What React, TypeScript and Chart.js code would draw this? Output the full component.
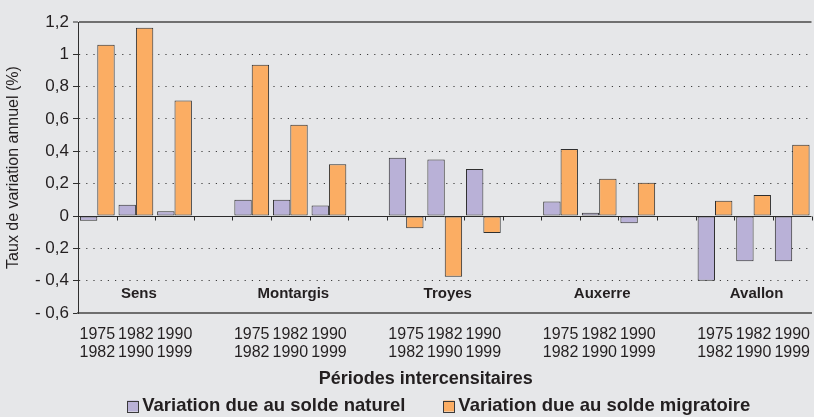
import React, { useEffect, useRef } from 'react';
import { Chart, registerables } from 'chart.js';

Chart.register(...registerables);

const cities = ['Sens', 'Montargis', 'Troyes', 'Auxerre', 'Avallon'];
const periodStarts = ['1975', '1982', '1990'];
const periodEnds = ['1982', '1990', '1999'];
const naturel = [-0.03, 0.07, 0.03, 0.1, 0.1, 0.065, 0.36, 0.35, 0.29, 0.09, 0.02, -0.045, -0.4, -0.28, -0.28];
const migratoire = [1.06, 1.165, 0.715, 0.935, 0.565, 0.32, -0.075, -0.375, -0.105, 0.415, 0.23, 0.205, 0.095, 0.13, 0.44];
const seriesNames = ['Variation due au solde naturel', 'Variation due au solde migratoire'];
const yMin = -0.6;
const yMax = 1.2;
const yStep = 0.2;
const yTitle = 'Taux de variation annuel (%)';
const xTitle = 'Périodes intercensitaires';

const COLORS = ['#b9b1d7', '#fbad63'];
const TEXT = '#231f20';
const FONT = "'Liberation Sans', Arial, sans-serif";

function buildCategories() {
  const labels: (string[] | string)[] = [];
  const nat: (number | null)[] = [];
  const mig: (number | null)[] = [];
  const cityIndex: number[] = [];
  cities.forEach((_, ci) => {
    periodStarts.forEach((s, pi) => {
      labels.push([s, periodEnds[pi]]);
      nat.push(naturel[ci * 3 + pi]);
      mig.push(migratoire[ci * 3 + pi]);
    });
    cityIndex.push(labels.length - 2);
    if (ci < cities.length - 1) {
      labels.push('');
      nat.push(null);
      mig.push(null);
    }
  });
  return { labels, nat, mig, cityIndex };
}

function fmt(v: number) {
  const r = Math.round(v * 10) / 10;
  const s = Math.abs(r).toString().replace('.', ',');
  return r < 0 ? '- ' + s : s;
}

export default function App() {
  const ref = useRef<HTMLCanvasElement | null>(null);

  useEffect(() => {
    document.body.style.margin = '0';
    const { labels, nat, mig, cityIndex } = buildCategories();

    const overlay = {
      id: 'overlay',
      afterDatasetsDraw(chart: any) {
        const { ctx, chartArea } = chart;
        const x = chart.scales.x;
        const y = chart.scales.y;
        const y0 = Math.round(y.getPixelForValue(0)) + 0.5;
        ctx.save();
        ctx.strokeStyle = '#2b2b2b';
        ctx.lineWidth = 1;
        ctx.beginPath();
        ctx.moveTo(chartArea.left, y0);
        ctx.lineTo(chartArea.right, y0);
        const n = labels.length;
        const half = (x.getPixelForValue(1) - x.getPixelForValue(0)) / 2;
        for (let i = 1; i <= n; i++) {
          const px = Math.round(x.getPixelForValue(i) - half) + 0.5;
          ctx.moveTo(px, y0);
          ctx.lineTo(px, y0 + 4);
        }
        ctx.stroke();

        ctx.fillStyle = TEXT;
        ctx.font = `bold 15px ${FONT}`;
        ctx.textAlign = 'center';
        ctx.textBaseline = 'middle';
        const ly = y.getPixelForValue(-0.48);
        cities.forEach((c, i) => {
          ctx.fillText(c, x.getPixelForValue(cityIndex[i]) + 3, ly);
        });
        ctx.restore();
      },
      afterDraw(chart: any) {
        const { ctx, chartArea } = chart;
        ctx.save();
        ctx.fillStyle = TEXT;
        ctx.textBaseline = 'middle';
        ctx.textAlign = 'center';
        ctx.font = `bold 18px ${FONT}`;
        const cx = (chartArea.left + chartArea.right) / 2 - 19;
        ctx.fillText(xTitle, cx, 379);

        // legend
        ctx.font = `bold 18.5px ${FONT}`;
        const box = 11;
        const gapText = 4;
        const gapItems = 38;
        const widths = seriesNames.map((s) => box + gapText + ctx.measureText(s).width);
        const total = widths[0] + gapItems + widths[1];
        let lx = cx + 13 - total / 2;
        const ly = 406;
        ctx.textAlign = 'left';
        seriesNames.forEach((s, i) => {
          ctx.fillStyle = COLORS[i];
          ctx.fillRect(lx, ly - box / 2, box, box);
          ctx.strokeStyle = '#3a3a3a';
          ctx.lineWidth = 1;
          ctx.strokeRect(Math.round(lx) + 0.5, Math.round(ly - box / 2) + 0.5, box, box);
          ctx.fillStyle = TEXT;
          ctx.fillText(s, lx + box + gapText, ly);
          lx += widths[i] + gapItems;
        });
        ctx.restore();
      },
    };

    const chart = new Chart(ref.current as HTMLCanvasElement, {
      type: 'bar',
      data: {
        labels,
        datasets: [
          {
            label: seriesNames[0],
            data: nat,
            backgroundColor: COLORS[0],
            borderColor: '#2f2f2f',
            borderWidth: 1,
            borderSkipped: false,
          },
          {
            label: seriesNames[1],
            data: mig,
            backgroundColor: COLORS[1],
            borderColor: '#2f2f2f',
            borderWidth: 1,
            borderSkipped: false,
          },
        ],
      },
      options: {
        animation: false,
        responsive: false,
        layout: { padding: { top: 22, left: 0, right: 0, bottom: 0 } },
        datasets: { bar: { categoryPercentage: 0.9, barPercentage: 1 } },
        plugins: {
          legend: { display: false },
          tooltip: { enabled: false },
        },
        scales: {
          x: {
            offset: true,
            grid: { display: false },
            border: { color: '#6e6e6e', width: 2 },
            ticks: {
              autoSkip: false,
              maxRotation: 0,
              minRotation: 0,
              padding: 4,
              color: TEXT,
              font: { family: FONT, size: 16, lineHeight: 1.15 },
            },
            afterFit: (s: any) => {
              s.height = 104;
            },
          },
          y: {
            min: yMin,
            max: yMax,
            afterFit: (s: any) => {
              s.width = 78;
            },
            ticks: {
              stepSize: yStep,
              padding: 4,
              color: TEXT,
              font: { family: FONT, size: 17 },
              callback: (v: any) => fmt(Number(v)),
            },
            grid: {
              tickLength: 5,
              tickColor: '#2f2f2f',
              tickWidth: 1,
              color: (c: any) => {
                const v = c.tick ? c.tick.value : 0;
                if (Math.abs(v) < 1e-6 || v < yMin + 1e-6) return 'rgba(0,0,0,0)';
                if (v > yMax - 1e-6) return '#707070';
                return '#3c3c3c';
              },
              lineWidth: (c: any) => {
                const v = c.tick ? c.tick.value : 0;
                return v > yMax - 1e-6 ? 2 : 1;
              },
            },
            border: {
              color: '#2f2f2f',
              width: 1,
              dash: (c: any) => {
                const v = c.tick ? c.tick.value : 0;
                if (!c.tick || v > yMax - 1e-6) return [];
                return [1.2, 6];
              },
            },
            title: {
              display: true,
              text: yTitle,
              color: TEXT,
              padding: { top: 4, bottom: 0 },
              font: { family: FONT, size: 16 },
            },
          },
        },
      },
      plugins: [overlay],
    } as any);

    return () => {
      chart.destroy();
    };
  }, []);

  return (
    <div style={{ position: 'fixed', left: 0, top: 0, width: 814, height: 417, background: '#e6e7e9' }}>
      <canvas ref={ref} width={814} height={417} style={{ display: 'block' }} />
    </div>
  );
}
